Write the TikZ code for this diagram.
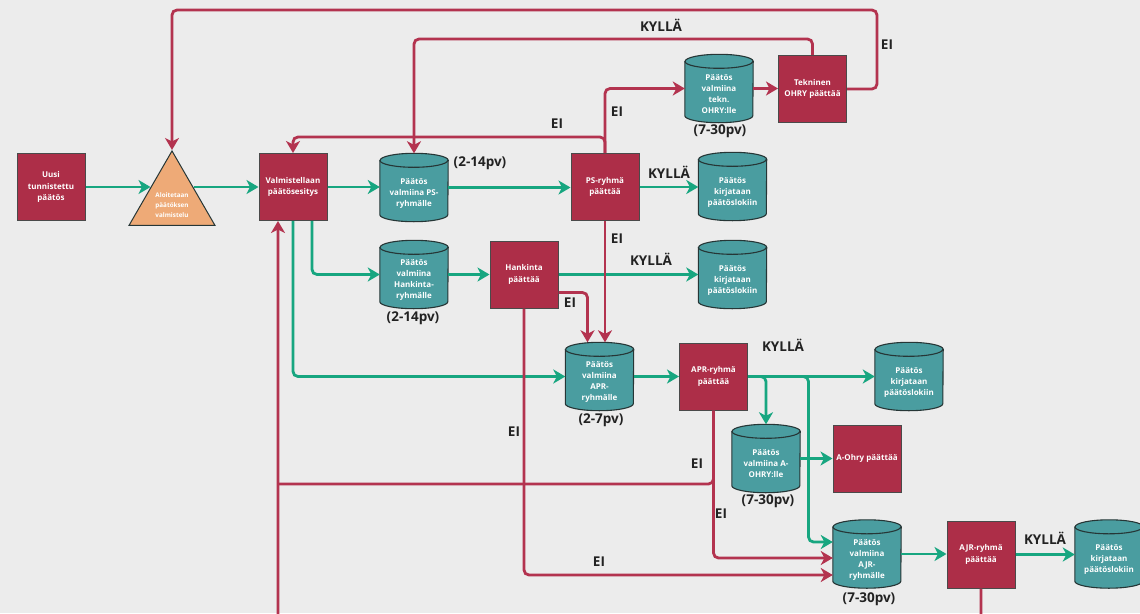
\documentclass[tikz,border=0pt]{standalone}
\usepackage{fontspec}
\setmainfont{Open Sans}
\usetikzlibrary{arrows.meta,shapes.geometric,calc}
\pgfdeclarelayer{bg}
\pgfdeclarelayer{drums}
\pgfsetlayers{bg,drums,main}

\definecolor{pagebg}{HTML}{ECECEC}
\definecolor{boxred}{HTML}{AD2E48}
\definecolor{boxedge}{HTML}{4A4A4A}
\definecolor{drumteal}{HTML}{4A9DA0}
\definecolor{drumedge}{HTML}{263636}
\definecolor{flowgreen}{HTML}{17A680}
\definecolor{flowred}{HTML}{B3334F}
\definecolor{startorange}{HTML}{EEAA77}
\definecolor{labink}{HTML}{222222}

\begin{document}
\begin{tikzpicture}[x=1pt,y=-1pt,
  dbox/.style={rectangle, fill=boxred, draw=boxedge, line width=1pt,
    minimum width=68pt, minimum height=67pt, inner sep=2pt, align=center,
    text=white, font=\bfseries\fontsize{8}{11.5}\selectfont},
  drum/.style={rectangle, minimum width=68pt, minimum height=68pt, inner sep=0pt,
    align=center, text=white, font=\bfseries\fontsize{8}{11}\selectfont},
  drumbody/.style={fill=drumteal, draw=drumedge, line width=1.1pt},
  lab/.style={text=labink, font=\bfseries\fontsize{13.5}{15}\selectfont, inner sep=0pt},
  flow/.style={line width=2.8pt, rounded corners=5pt,
    -{Stealth[length=12pt,width=14pt,inset=3.5pt]}},
  gflow/.style={flow, draw=flowgreen},
  rflow/.style={flow, draw=flowred},
  rline/.style={line width=2.8pt, rounded corners=5pt, draw=flowred}]

\useasboundingbox (0,0) rectangle (1140,613);
\begin{pgfonlayer}{bg}
  \fill[pagebg] (0,0) rectangle (1140,613);
\end{pgfonlayer}
\clip (0,0) rectangle (1140,613);

% decision boxes
\node[dbox] (uusi)  at (51,187)    {Uusi\\tunnistettu\\päätös};
\node[dbox] (valm)  at (293,187)   {Valmistellaan\\päätösesitys};
\node[dbox] (ps)    at (605,187)   {PS-ryhmä\\päättää};
\node[dbox] (tekn)  at (812.5,89)  {Tekninen\\OHRY päättää};
\node[dbox] (hank)  at (524,274.5) {Hankinta\\päättää};
\node[dbox] (apr)   at (713.5,376.5) {APR-ryhmä\\päättää};
\node[dbox] (aohry) at (867,458.5) {A-Ohry päättää};
\node[dbox] (ajr)   at (981,554.5) {AJR-ryhmä\\päättää};

% start triangle
\node[regular polygon, regular polygon sides=3, minimum size=99.3pt, inner sep=0pt,
  fill=startorange, draw=drumedge, line width=1pt] (tri) at (172,200.6) {};
\node[text=white, align=center, inner sep=0pt,
  font=\bfseries\fontsize{6.3}{9.8}\selectfont] (tritext) at (172,205)
  {Aloitetaan\\päätöksen\\valmistelu};
\coordinate (triL) at (150.5,187);
\coordinate (triR) at (193.5,187);

% storage drums (text nudged below the lid)
\newcommand\lid{\rule{0pt}{17pt}}
\node[drum] (cps)    at (414,187.5)  {\lid Päätös\\valmiina PS-\\ryhmälle};
\node[drum] (clog1)  at (732.5,186.5){\lid Päätös\\kirjataan\\päätöslokiin};
\node[drum] (ctek)   at (719,88.5)   {\lid Päätös\\valmiina\\tekn.\\OHRY:lle};
\node[drum] (chank)  at (414,274.5)  {\lid Päätös\\valmiina\\Hankinta-\\ryhmälle};
\node[drum] (clog2)  at (732.5,274.5){\lid Päätös\\kirjataan\\päätöslokiin};
\node[drum] (capr)   at (599.5,376.5){\lid Päätös\\valmiina\\APR-\\ryhmälle};
\node[drum] (clog3)  at (909,376.5)  {\lid Päätös\\kirjataan\\päätöslokiin};
\node[drum] (caohry) at (766,458.5)  {\lid Päätös\\valmiina A-\\OHRY:lle};
\node[drum] (cajr)   at (867,554)    {\lid Päätös\\valmiina\\AJR-\\ryhmälle};
\node[drum] (clog4)  at (1109,554)   {\lid Päätös\\kirjataan\\päätöslokiin};

\begin{pgfonlayer}{drums}
\foreach \n in {cps,clog1,ctek,chank,clog2,capr,clog3,caohry,cajr,clog4}{
  \path[drumbody] ([yshift=-7pt]\n.north west) -- ([yshift=7pt]\n.south west)
     arc[start angle=180,end angle=360,x radius=34pt,y radius=7pt]
     -- ([yshift=-7pt]\n.north east)
     arc[start angle=0,end angle=180,x radius=34pt,y radius=7pt] -- cycle;
  \draw[drumedge, line width=1.1pt] ([yshift=-7pt]\n.north west)
     arc[start angle=180,end angle=360,x radius=34pt,y radius=7pt];
}
\end{pgfonlayer}

% duration and decision labels
\node[lab] (d1) at (480,163)  {(2-14pv)};
\node[lab] (d2) at (720,131)  {(7-30pv)};
\node[lab] (d3) at (413,318)  {(2-14pv)};
\node[lab] (d4) at (601,420)  {(2-7pv)};
\node[lab] (d5) at (768,501)  {(7-30pv)};
\node[lab] (d6) at (869,599)  {(7-30pv)};
\node[lab] (y1) at (661,25)   {KYLLÄ};
\node[lab] (y2) at (669,172)  {KYLLÄ};
\node[lab] (y3) at (651,259)  {KYLLÄ};
\node[lab] (y4) at (783,345)  {KYLLÄ};
\node[lab] (y5) at (1045,538) {KYLLÄ};
\node[lab] (e1) at (887,45)   {EI};
\node[lab] (e2) at (557,124)  {EI};
\node[lab] (e3) at (617,112)  {EI};
\node[lab] (e4) at (617,239)  {EI};
\node[lab] (e5) at (570,303)  {EI};
\node[lab] (e6) at (514,432)  {EI};
\node[lab] (e7) at (697,464)  {EI};
\node[lab] (e8) at (721,514)  {EI};
\node[lab] (e9) at (599,562)  {EI};

% forward flow
\draw[gflow] (uusi.east) -- (triL);
\draw[gflow] (triR) -- (valm.west);
\draw[gflow] (valm.east) -- (valm.east -| cps.west);
\draw[gflow] (cps.east) -- (cps.east -| ps.west);
\draw[gflow] (ps.east) -- (ps.east -| clog1.west);
\draw[gflow] ([xshift=19pt]valm.south) |- (chank.west);
\draw[gflow] (valm.south) |- (capr.west);
\draw[gflow] (chank.east) -- (hank.west);
\draw[gflow] (hank.east) -- (clog2.west);
\draw[gflow] (capr.east) -- (apr.west);
\draw[gflow] (apr.east) -- (clog3.west);
\draw[gflow] (apr.east) -| (caohry.north);
\draw[gflow] (apr.east) -- ++(60.5,0) |- ([yshift=12pt]cajr.west);
\draw[gflow] (caohry.east) -- (caohry.east -| aohry.west);
\draw[gflow] (cajr.east) -- (cajr.east -| ajr.west);
\draw[gflow] (ajr.east) -- (ajr.east -| clog4.west);

% return and rejection flow
\draw[rflow] (tekn.east) -- ++(30,0) -- ++(0,-79) -| (tri.corner 1);
\draw[rflow] (tekn.north) -- ++(0,-16) -| (cps.north);
\draw[rflow] (ps.north) -- ++(0,-16) -| (valm.north);
\draw[rflow] (ps.north) |- (ctek.west);
\draw[rflow] (ctek.east) -- (ctek.east -| tekn.west);
\draw[rflow] (ps.south) -- (ps.south |- capr.north);
\draw[rflow] ([yshift=-18pt]hank.east) -| ([xshift=-12pt]capr.north);
\draw[rflow] (hank.south) |- ([yshift=-21pt]cajr.west);
\draw[rflow] (apr.south) |- ([yshift=-4pt]cajr.west);
\coordinate (join) at (278,484);
\draw[rline] (apr.south) |- (join);
\draw[rflow] (ajr.south) -- ++(0,40) -| ([xshift=-15pt]valm.south);

\end{tikzpicture}
\end{document}
